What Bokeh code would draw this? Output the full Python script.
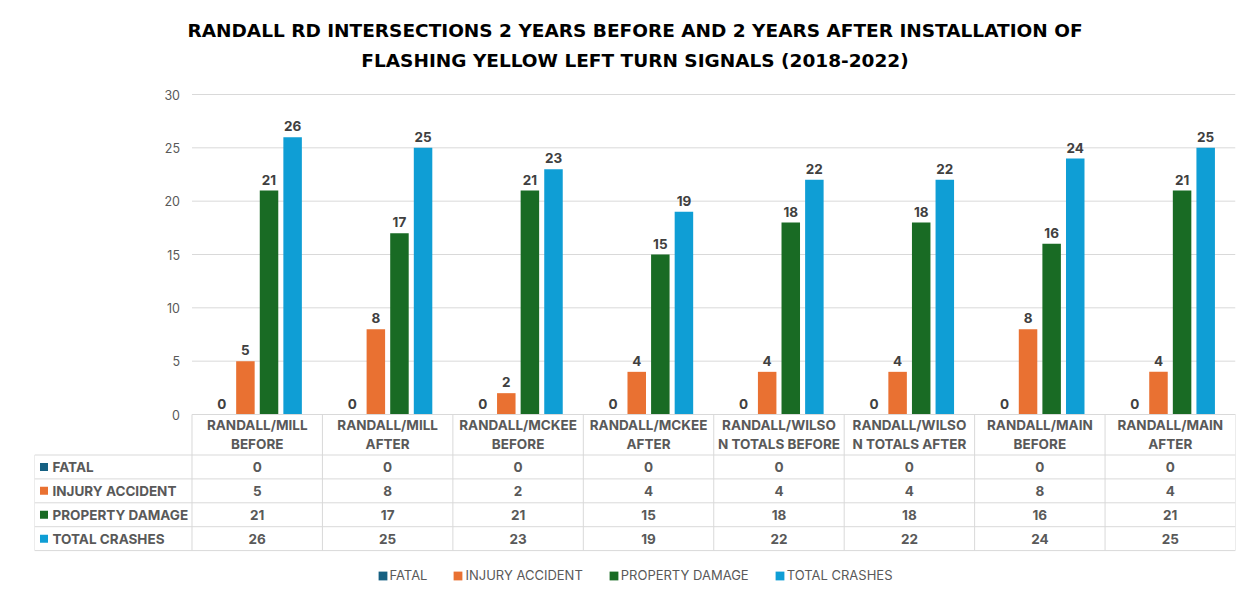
from bokeh.plotting import figure
from bokeh.models import Range1d, Title, FixedTicker, Legend, LegendItem, ColumnDataSource
from bokeh.transform import dodge
from bokeh.embed import file_html
from bokeh.resources import INLINE
from bokeh.core.properties import value

# ---------------- data ----------------
title_lines = ["RANDALL RD INTERSECTIONS 2 YEARS BEFORE AND 2 YEARS AFTER INSTALLATION OF",
               "FLASHING YELLOW LEFT TURN SIGNALS (2018-2022)"]
categories = ["RANDALL/MILL\nBEFORE", "RANDALL/MILL\nAFTER", "RANDALL/MCKEE\nBEFORE",
              "RANDALL/MCKEE\nAFTER", "RANDALL/WILSO\nN TOTALS BEFORE", "RANDALL/WILSO\nN TOTALS AFTER",
              "RANDALL/MAIN\nBEFORE", "RANDALL/MAIN\nAFTER"]
series_names = ["FATAL", "INJURY ACCIDENT", "PROPERTY DAMAGE", "TOTAL CRASHES"]
fatal = [0, 0, 0, 0, 0, 0, 0, 0]
injury_accident = [5, 8, 2, 4, 4, 4, 8, 4]
property_damage = [21, 17, 21, 15, 18, 18, 16, 21]
total_crashes = [26, 25, 23, 19, 22, 22, 24, 25]
y_ticks = [0, 5, 10, 15, 20, 25, 30]

# ---------------- styles ----------------
colors = ["#156082", "#E97132", "#196B24", "#0F9ED5"]
FONT = value("Inter")
GRAY = "#595959"
LINE = "#d9d9d9"
CAT_PX = 130.44
LEFT_COL_PX = 157.5
X0 = -LEFT_COL_PX / CAT_PX
N = len(categories)
BAR_W = 18.5 / CAT_PX
BAR_STEP = 23.6 / CAT_PX
HEADER_H = 40.5
ROW_H = 23.9
TXT = "13.5px"
PX_PER_UNIT = 320 / 30
TOP_PAD_PX = 10

series_values = [fatal, injury_accident, property_damage, total_crashes]

p = figure(width=1238, height=589, output_backend="svg", toolbar_location=None,
           x_range=Range1d(X0, N),
           y_range=Range1d(-169 / PX_PER_UNIT, 30 + TOP_PAD_PX / PX_PER_UNIT),
           x_axis_type=None, min_border_left=34, min_border_right=3,
           min_border_top=94 - TOP_PAD_PX, min_border_bottom=6)
p.extra_y_ranges = {"tbl": Range1d(-169, 320 + TOP_PAD_PX)}
p.outline_line_color = None
p.ygrid.visible = False
p.background_fill_color = "white"
p.border_fill_color = "white"

title_standoffs = [-14, 28]
for line, so in reversed(list(zip(title_lines, title_standoffs))):
    p.add_layout(Title(text=line, align="center", text_font_size="18.5px", text_font_style="bold",
                       text_color="#000000", text_font="DejaVu Sans", standoff=so), "above")

# y axis at x = 0
ax = p.yaxis[0]
ax.ticker = FixedTicker(ticks=y_ticks)
ax.fixed_location = 0
ax.bounds = (0, 30)
ax.axis_line_color = None
ax.major_tick_line_color = None
ax.minor_tick_line_color = None
ax.major_label_standoff = 6
ax.major_label_text_font_size = "12.5px"
ax.major_label_text_color = GRAY
ax.major_label_text_font = "Inter"

# gridlines across the category area
p.segment(x0=[0] * len(y_ticks), x1=[N] * len(y_ticks), y0=y_ticks, y1=y_ticks,
          line_color=LINE, line_width=1)

# bars
xc = [i + 0.5 for i in range(N)]
for j, (name, vals) in enumerate(zip(series_names, series_values)):
    src = ColumnDataSource(dict(x=xc, top=vals, lbl=[str(v) for v in vals]))
    off = (j - 1.5) * BAR_STEP
    p.vbar(x=dodge("x", off, range=p.x_range), top="top", width=BAR_W, source=src,
           fill_color=colors[j], line_color=None)
    p.text(x=dodge("x", off, range=p.x_range), y="top", text="lbl", source=src,
           text_align="center", text_baseline="alphabetic", y_offset=-11,
           text_font=FONT, text_font_size="13.5px", text_font_style="bold", text_color="#404040")

# ---------------- data table ----------------
row_bottoms = [-(HEADER_H + k * ROW_H) for k in range(len(series_names) + 1)]
p.segment(x0=[0], x1=[N], y0=[0], y1=[0], line_color=LINE, y_range_name="tbl")
p.segment(x0=[X0] * len(row_bottoms), x1=[N] * len(row_bottoms), y0=row_bottoms, y1=row_bottoms,
          line_color=LINE, y_range_name="tbl")
p.segment(x0=[X0], x1=[X0], y0=[row_bottoms[0]], y1=[row_bottoms[-1]], line_color=LINE, y_range_name="tbl")
p.segment(x0=list(range(N + 1)), x1=list(range(N + 1)), y0=[0] * (N + 1), y1=[row_bottoms[-1]] * (N + 1),
          line_color=LINE, y_range_name="tbl")
p.text(x=xc, y=[-HEADER_H / 2] * N, text=categories, y_range_name="tbl",
       text_align="center", text_baseline="middle", text_line_height=1.2,
       text_font=FONT, text_font_size=TXT, text_font_style="bold", text_color=GRAY)
legend_items = []
for k, (name, vals) in enumerate(zip(series_names, series_values)):
    yc = row_bottoms[k] - ROW_H / 2
    r = p.rect(x=[X0 + 9.5 / CAT_PX], y=[yc], width=8, height=8, width_units="screen",
               height_units="screen", fill_color=colors[k], line_color=None, y_range_name="tbl")
    legend_items.append(LegendItem(label=name, renderers=[r]))
    p.text(x=[X0], y=[yc], text=[name], x_offset=18, y_range_name="tbl",
           text_align="left", text_baseline="middle",
           text_font=FONT, text_font_size=TXT, text_font_style="bold", text_color=GRAY)
    p.text(x=xc, y=[yc] * N, text=[str(v) for v in vals], y_range_name="tbl",
           text_align="center", text_baseline="middle",
           text_font=FONT, text_font_size=TXT, text_font_style="bold", text_color=GRAY)

legend = Legend(items=legend_items, orientation="horizontal", location="bottom_center",
                glyph_width=11, glyph_height=11, label_standoff=2, spacing=25, padding=2, margin=0,
                border_line_color=None, background_fill_alpha=0,
                label_text_font_size="13px", label_text_color=GRAY, label_text_font="Inter")
p.add_layout(legend)

open("out.html", "w").write(file_html(p, INLINE))
